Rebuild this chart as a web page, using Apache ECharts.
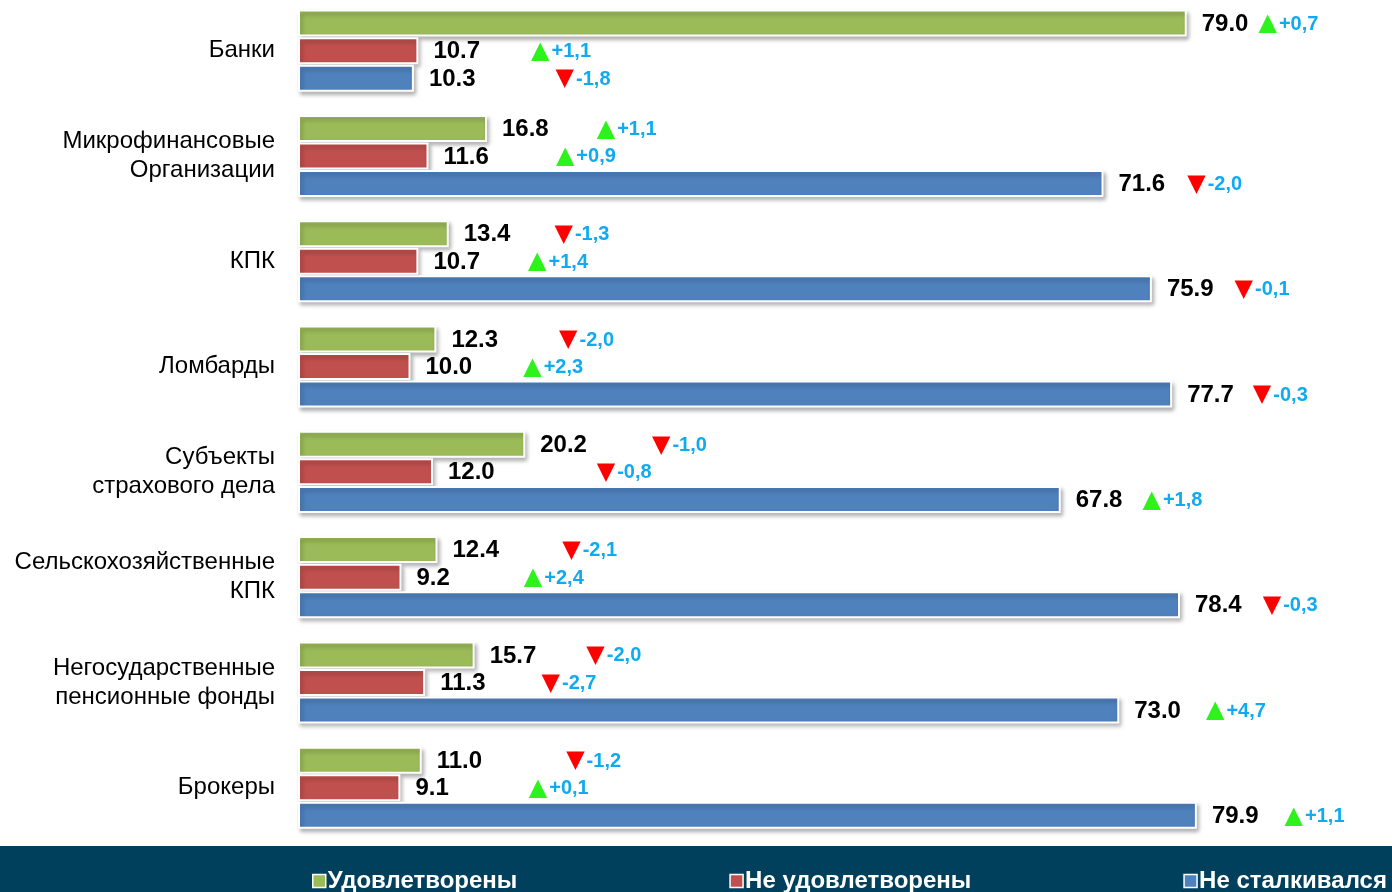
<html>
  <head>
    <meta charset="utf-8">
    <style>
      html, body { margin: 0; padding: 0; background: #fff; }
      #chart { width: 1392px; height: 892px; }
    </style>
  </head>
  <body>
    <div id="chart"></div>
  </body>
  <script src="https://cdn.jsdelivr.net/npm/echarts@6/dist/echarts.min.js"></script>
  <script>

var categories = [
  'Банки',
  'Микрофинансовые\nОрганизации',
  'КПК',
  'Ломбарды',
  'Субъекты\nстрахового дела',
  'Сельскохозяйственные\nКПК',
  'Негосударственные\nпенсионные фонды',
  'Брокеры'
];
var seriesNames = ['Удовлетворены', 'Не удовлетворены', 'Не сталкивался'];

var satisfied   = [79.0, 16.8, 13.4, 12.3, 20.2, 12.4, 15.7, 11.0];
var unsatisfied = [10.7, 11.6, 10.7, 10.0, 12.0, 9.2, 11.3, 9.1];
var notFaced    = [10.3, 71.6, 75.9, 77.7, 67.8, 78.4, 73.0, 79.9];

// change vs previous period
var satisfiedDelta   = [0.7, 1.1, -1.3, -2.0, -1.0, -2.1, -2.0, -1.2];
var unsatisfiedDelta = [1.1, 0.9, 1.4, 2.3, -0.8, 2.4, -2.7, 0.1];
var notFacedDelta    = [-1.8, -2.0, -0.1, -0.3, 1.8, -0.3, 4.7, 1.1];

// space (px) between the value label and the change marker, as placed in the original
var satisfiedGap   = [10, 48, 44, 61, 65, 63, 50, 84];
var unsatisfiedGap = [51, 67, 48, 51, 102, 74, 56, 80];
var notFacedGap    = [80, 22, 21, 19, 20, 21, 25, 26];

var colors = ['#9bbb59', '#c0504d', '#4f81bd'];

function fmtDelta(d) {
  return (d > 0 ? '+' : '-') + Math.abs(d).toFixed(1).replace('.', ',');
}

function richFor(gap) {
  return {
    v: { fontSize: 24, fontWeight: 'bold', color: '#000', fontFamily: 'Liberation Sans', verticalAlign: 'middle' },
    sp: { width: gap },
    up: { fontSize: 24, color: '#2ef21c', fontFamily: 'DejaVu Sans', padding: [0, 2, 0, 0], verticalAlign: 'middle' },
    dn: { fontSize: 24, color: '#ff0000', fontFamily: 'DejaVu Sans', padding: [0, 2, 0, 0], verticalAlign: 'middle' },
    d: { fontSize: 20, fontWeight: 'bold', color: '#10aaf0', fontFamily: 'Liberation Sans', verticalAlign: 'middle' }
  };
}

function makeData(values, deltas, gaps) {
  return values.map(function (v, i) {
    var d = deltas[i];
    var up = d > 0;
    return {
      value: v,
      label: {
        formatter: '{v|' + v.toFixed(1) + '}{sp|}{' + (up ? 'up|▲' : 'dn|▼') + '}{d|' + fmtDelta(d) + '}',
        rich: richFor(gaps[i])
      }
    };
  });
}

function barSeries(idx, values, deltas, gaps) {
  return {
    name: seriesNames[idx],
    type: 'bar',
    barWidth: 27,
    barGap: '2%',
    itemStyle: {
      color: colors[idx],
      borderColor: '#fff',
      borderWidth: 2,
      shadowColor: 'rgba(0,0,0,0.28)',
      shadowBlur: 4,
      shadowOffsetX: 2,
      shadowOffsetY: 3
    },
    label: { show: true, position: 'right', distance: 15, offset: [0, 1] },
    data: makeData(values, deltas, gaps)
  };
}

var chart = echarts.init(document.getElementById('chart'));
var option = {
  animation: false,
  grid: { left: 298, top: -2, width: 1125, height: 842.4, outerBoundsMode: 'none', containLabel: false },
  xAxis: { type: 'value', min: 0, max: 100, show: false },
  yAxis: {
    type: 'category',
    inverse: true,
    data: categories,
    axisLine: { show: false },
    axisTick: { show: false },
    axisLabel: {
      fontSize: 24,
      lineHeight: 29,
      color: '#000',
      fontFamily: 'Liberation Sans',
      margin: 23,
      align: 'right'
    }
  },
  graphic: [{
    type: 'rect',
    z: 0,
    shape: { x: 0, y: 846, width: 1392, height: 46 },
    style: { fill: '#01405d' }
  }],
  legend: {
    data: seriesNames,
    z: 10,
    left: 307,
    top: 864,
    width: 1085,
    padding: 5,
    icon: 'rect',
    itemWidth: 13,
    itemHeight: 13,
    itemGap: 212,
    itemStyle: { borderColor: '#fff', borderWidth: 1.5, shadowBlur: 0, shadowOffsetX: 0, shadowOffsetY: 0 },
    textStyle: { color: '#fff', fontSize: 24, fontWeight: 'bold', fontFamily: 'Liberation Sans', padding: [0, 0, 0, -3] }
  },
  series: [
    barSeries(0, satisfied, satisfiedDelta, satisfiedGap),
    barSeries(1, unsatisfied, unsatisfiedDelta, unsatisfiedGap),
    barSeries(2, notFaced, notFacedDelta, notFacedGap)
  ]
};
chart.setOption(option);

  </script>
</html>
